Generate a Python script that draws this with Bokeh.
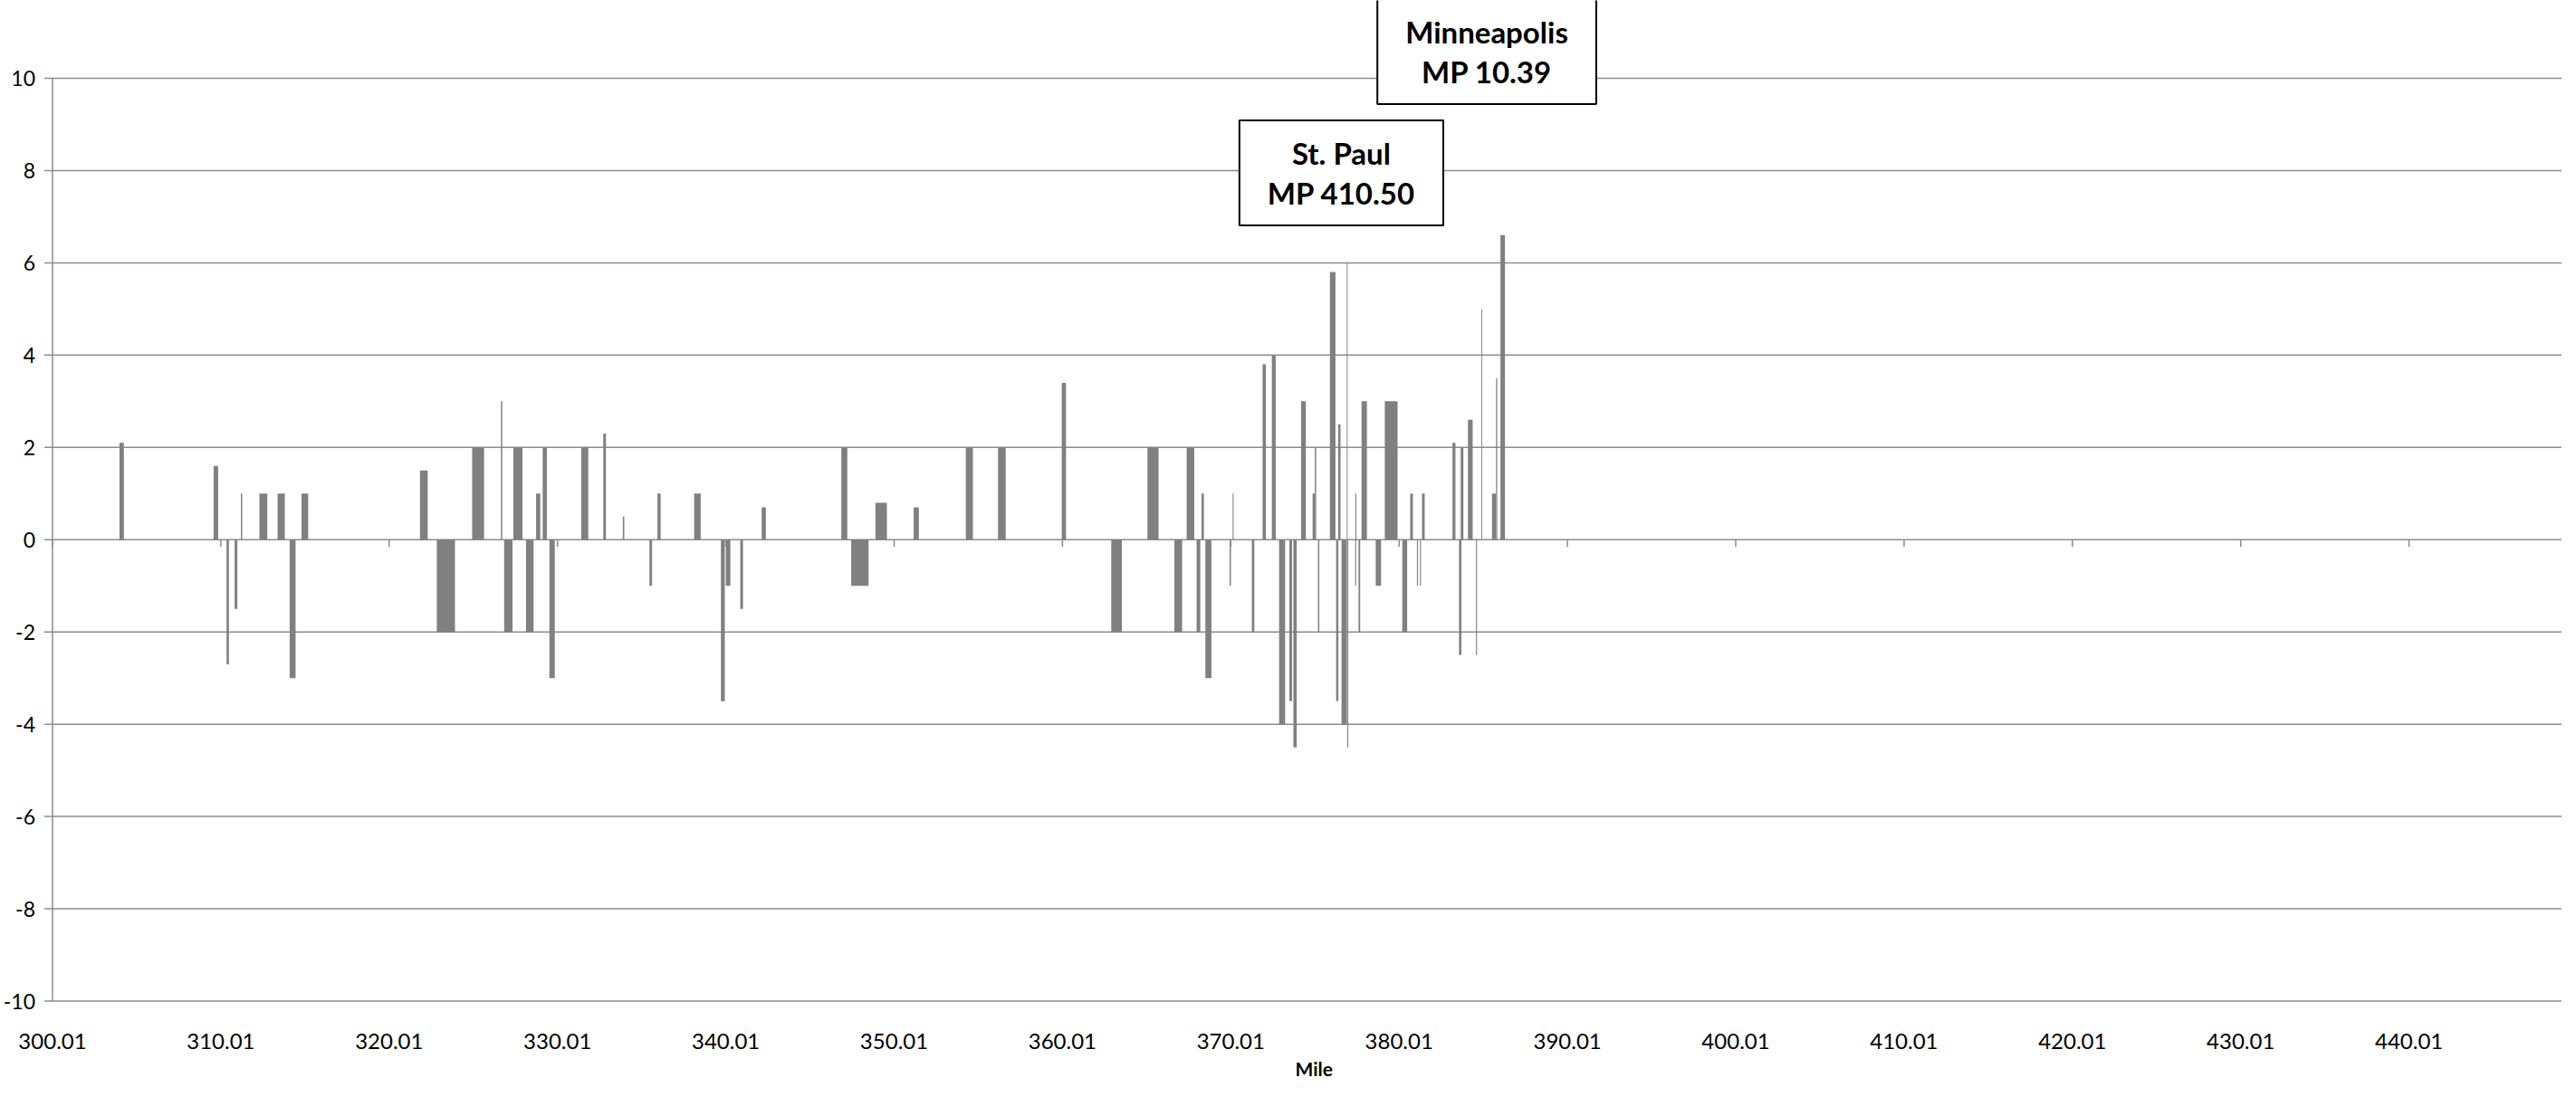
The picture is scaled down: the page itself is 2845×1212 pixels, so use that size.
from bokeh.plotting import figure
from bokeh.models import Label, Range1d, ColumnDataSource
from bokeh.core.properties import value
from bokeh.embed import file_html
from bokeh.resources import INLINE

# ---- data ----
mile_from = [303.99, 309.58, 310.35, 310.83, 311.20, 312.30, 313.38, 314.10, 314.80, 321.84, 322.84,
             324.94, 326.65, 326.84, 327.39, 328.14, 328.74, 329.13, 329.53, 331.42, 332.73, 333.89,
             335.47, 335.95, 338.13, 339.72, 340.01, 340.87, 342.14,
             346.87, 347.46, 348.90, 351.17, 354.27, 356.18, 359.97, 362.91, 365.06, 366.66, 367.39,
             367.98, 368.27, 368.50, 369.94, 370.12, 371.26, 371.90, 372.45, 372.88, 373.49, 373.73,
             374.19, 374.87, 375.00, 375.19, 375.90, 376.27, 376.39, 376.59, 376.90, 376.93, 377.41,
             377.60, 377.78, 378.62, 379.16, 380.20, 380.67, 381.07, 381.25, 381.37, 383.18, 383.57,
             383.67, 384.10, 384.58, 384.90, 385.53, 385.77, 386.03, 377.40]
mile_to = [304.25, 309.85, 310.49, 310.99, 311.28, 312.77, 313.81, 314.45, 315.20, 322.30, 323.92,
           325.65, 326.73, 327.34, 327.93, 328.59, 328.99, 329.38, 329.85, 331.84, 332.89, 333.98,
           335.63, 336.14, 338.52, 339.95, 340.28, 341.03, 342.39,
           347.23, 348.49, 349.58, 351.48, 354.69, 356.64, 360.22, 363.54, 365.72, 367.12, 367.84,
           368.20, 368.41, 368.86, 370.02, 370.18, 371.41, 372.10, 372.68, 373.24, 373.65, 373.93,
           374.47, 375.00, 375.08, 375.27, 376.23, 376.40, 376.53, 376.91, 376.95, 376.99, 377.47,
           377.70, 378.10, 378.94, 379.92, 380.49, 380.83, 381.13, 381.31, 381.53, 383.36, 383.71,
           383.83, 384.38, 384.64, 384.95, 385.76, 385.84, 386.30, 377.46]
grade = [2.1, 1.6, -2.7, -1.5, 1.0, 1.0, 1.0, -3.0, 1.0, 1.5, -2.0,
         2.0, 3.0, -2.0, 2.0, -2.0, 1.0, 2.0, -3.0, 2.0, 2.3, 0.5,
         -1.0, 1.0, 1.0, -3.5, -1.0, -1.5, 0.7,
         2.0, -1.0, 0.8, 0.7, 2.0, 2.0, 3.4, -2.0, 2.0, -2.0, 2.0,
         -2.0, 1.0, -3.0, -1.0, 1.0, -2.0, 3.8, 4.0, -4.0, -3.5, -4.5,
         3.0, 1.0, 2.0, -2.0, 5.8, -3.5, 2.5, -4.0, 6.0, -4.5, 1.0,
         -2.0, 3.0, -1.0, 3.0, -2.0, 1.0, -1.0, -1.0, 1.0, 2.1, -2.5,
         2.0, 2.6, -2.5, 5.0, 1.0, 3.5, 6.6, -1.0]

x_ticks = [300.01, 310.01, 320.01, 330.01, 340.01, 350.01, 360.01, 370.01,
           380.01, 390.01, 400.01, 410.01, 420.01, 430.01, 440.01]
x_labels = ["300.01", "310.01", "320.01", "330.01", "340.01", "350.01", "360.01", "370.01",
            "380.01", "390.01", "400.01", "410.01", "420.01", "430.01", "440.01"]
y_ticks = [-10, -8, -6, -4, -2, 0, 2, 4, 6, 8, 10]
x_title = "Mile"

annot_text = ["St. Paul\nMP 410.50", "Minneapolis\nMP 10.39"]
annot_mile = [376.58, 385.22]
annot_y = [7.95, 10.58]

GRID = "#8c8c8c"
BAR = "#808080"
PX_PER_MILE = 18.59
PX_PER_UNIT = 50.975
W, H = 2829, 1196
X0_PX = 57.5      # pixel position of the first category
Y0_PX = 595.75    # pixel position of zero

x_lo = x_ticks[0] - X0_PX / PX_PER_MILE
x_hi = x_ticks[0] + (W - X0_PX) / PX_PER_MILE
y_hi = Y0_PX / PX_PER_UNIT
y_lo = (Y0_PX - H) / PX_PER_UNIT

src = ColumnDataSource(dict(
    x=[(a + b) / 2 for a, b in zip(mile_from, mile_to)],
    w=[b - a for a, b in zip(mile_from, mile_to)],
    top=grade,
))

p = figure(width=W, height=H, output_backend="svg", toolbar_location=None,
           x_range=Range1d(x_lo, x_hi), y_range=Range1d(y_lo, y_hi),
           min_border=0)
p.outline_line_color = None
p.background_fill_color = "white"
p.border_fill_color = "white"
p.axis.visible = False
p.grid.visible = False

ymin, ymax = min(y_ticks), max(y_ticks)
tick_len = 9 / PX_PER_MILE

# horizontal gridlines (with their outward tick on the left)
p.segment(x0=[x_ticks[0] - tick_len] * len(y_ticks), y0=y_ticks,
          x1=[x_hi] * len(y_ticks), y1=y_ticks, line_color=GRID, line_width=1.5)
# vertical axis line
p.segment(x0=[x_ticks[0]], y0=[ymin], x1=[x_ticks[0]], y1=[ymax],
          line_color=GRID, line_width=1.5)

# bars
p.vbar(x="x", width="w", top="top", bottom=0, source=src,
       fill_color=BAR, line_color=None)

# small tick marks on the zero line
p.segment(x0=x_ticks, y0=[0] * len(x_ticks), x1=x_ticks,
          y1=[-8 / PX_PER_UNIT] * len(x_ticks), line_color=GRID, line_width=1.5)

# x tick labels
p.text(x=x_ticks, y=[ymin] * len(x_ticks), text=x_labels, y_offset=44,
       text_align="center", text_baseline="middle",
       text_font=value("Lato"), text_font_size="24px", text_color="#000000")
# y tick labels
p.text(x=[x_ticks[0]] * len(y_ticks), y=y_ticks, text=[str(t) for t in y_ticks],
       x_offset=-19, text_align="right", text_baseline="middle",
       text_font=value("Lato"), text_font_size="23px", text_color="#000000")
# x axis title
p.text(x=[(x_ticks[0] + x_hi) / 2 + 0.4], y=[ymin], text=[x_title], y_offset=74,
       text_align="center", text_baseline="middle",
       text_font=value("Lato"), text_font_style="bold", text_font_size="21px",
       text_color="#000000")

for txt, xm, yv in zip(annot_text, annot_mile, annot_y):
    lab = Label(x=xm, y=yv, text=txt, text_align="center", text_baseline="middle",
                text_font="Lato", text_font_style="bold", text_font_size="33px",
                text_color="#000000", text_line_height=1.1,
                background_fill_color="white", border_line_color="black", border_line_width=2)
    try:
        lab.padding = dict(left=31, right=31, top=16, bottom=16)
    except Exception:
        lab.padding = 20
    p.add_layout(lab)

open("out.html", "w").write(file_html(p, INLINE))
